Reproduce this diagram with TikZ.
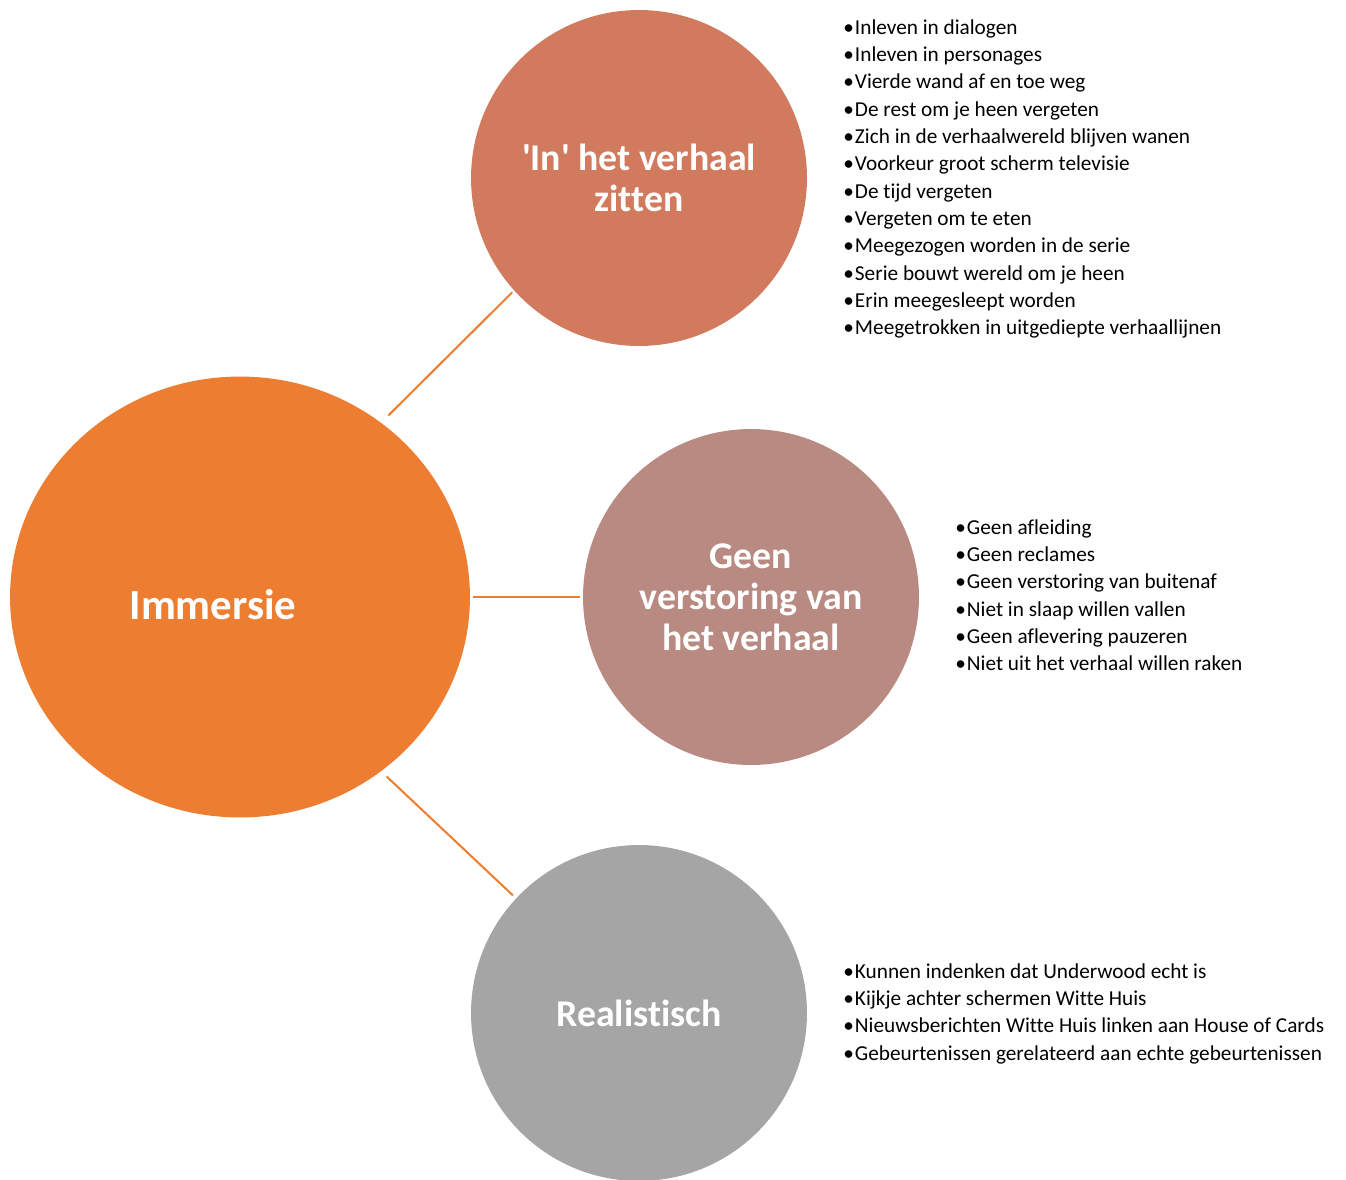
\documentclass[tikz,border=0pt]{standalone}
\usepackage{fontspec}
\setmainfont{Carlito}[Ligatures=NoCommon]
\usetikzlibrary{shapes.geometric}

\definecolor{immorange}{HTML}{ED7D31}
\definecolor{inred}{HTML}{D17A5D}
\definecolor{geenrose}{HTML}{B98A82}
\definecolor{realgray}{HTML}{A5A5A5}

\newcommand\bulletitem[1]{•\kern0.6pt#1}

\tikzset{
  bubble/.style={circle, minimum size=6.72cm, inner sep=0pt, text=white, align=center,
    font=\fontsize{21.5}{23.2}\selectfont\bfseries},
  item/.style={anchor=base west, inner sep=0pt, font=\fontsize{12.1}{15.5}\selectfont},
  link/.style={immorange, line width=1.15pt},
}

\begin{document}
\begin{tikzpicture}[x=0.02cm, y=-0.02cm]
  \useasboundingbox (0,0) rectangle (1346,1180);

  % centre
  \node[ellipse, fill=immorange, minimum width=9.2cm, minimum height=8.82cm, inner sep=0pt] (imm) at (240,597) {};
  \node[text=white, font=\fontsize{24.4}{27}\selectfont\bfseries] (immtxt) at (213,605) {Immersie};

  % three bubbles
  \node[bubble, fill=inred] (inhet) at (639,178) {\textquotesingle In\textquotesingle{} het verhaal\\zitten};
  \node[bubble, fill=geenrose] (geen) at (751,597) {Geen\\verstoring van\\het verhaal};
  \node[bubble, fill=realgray] (real) at (639,1013) {Realistisch};

  % connectors
  \draw[link, shorten <=0.2cm, shorten >=0.05cm] (imm.51.8) -- (inhet.222.4);
  \draw[link, shorten <=0.06cm, shorten >=0.06cm] (imm.east) -- (geen.west);
  \draw[link, shorten <=0.15cm, shorten >=0.08cm] (imm.-51.2) -- (real.137.1);

  % lists
  \foreach \t [count=\i from 0] in {Inleven in dialogen, Inleven in personages,
      Vierde wand af en toe weg, De rest om je heen vergeten,
      Zich in de verhaalwereld blijven wanen, Voorkeur groot scherm televisie,
      De tijd vergeten, Vergeten om te eten, Meegezogen worden in de serie,
      Serie bouwt wereld om je heen, Erin meegesleept worden,
      Meegetrokken in uitgediepte verhaallijnen}
    \node[item] (a\i) at (843,{34+27.36*\i}) {\bulletitem{\t}};

  \foreach \t [count=\i from 0] in {Geen afleiding, Geen reclames,
      Geen verstoring van buitenaf, Niet in slaap willen vallen,
      Geen aflevering pauzeren, Niet uit het verhaal willen raken}
    \node[item] (b\i) at (955,{534+27.36*\i}) {\bulletitem{\t}};

  \foreach \t [count=\i from 0] in {Kunnen indenken dat Underwood echt is,
      Kijkje achter schermen Witte Huis,
      Nieuwsberichten Witte Huis linken aan House of Cards,
      Gebeurtenissen gerelateerd aan echte gebeurtenissen}
    \node[item] (c\i) at (843,{978+27.36*\i}) {\bulletitem{\t}};
\end{tikzpicture}
\end{document}
